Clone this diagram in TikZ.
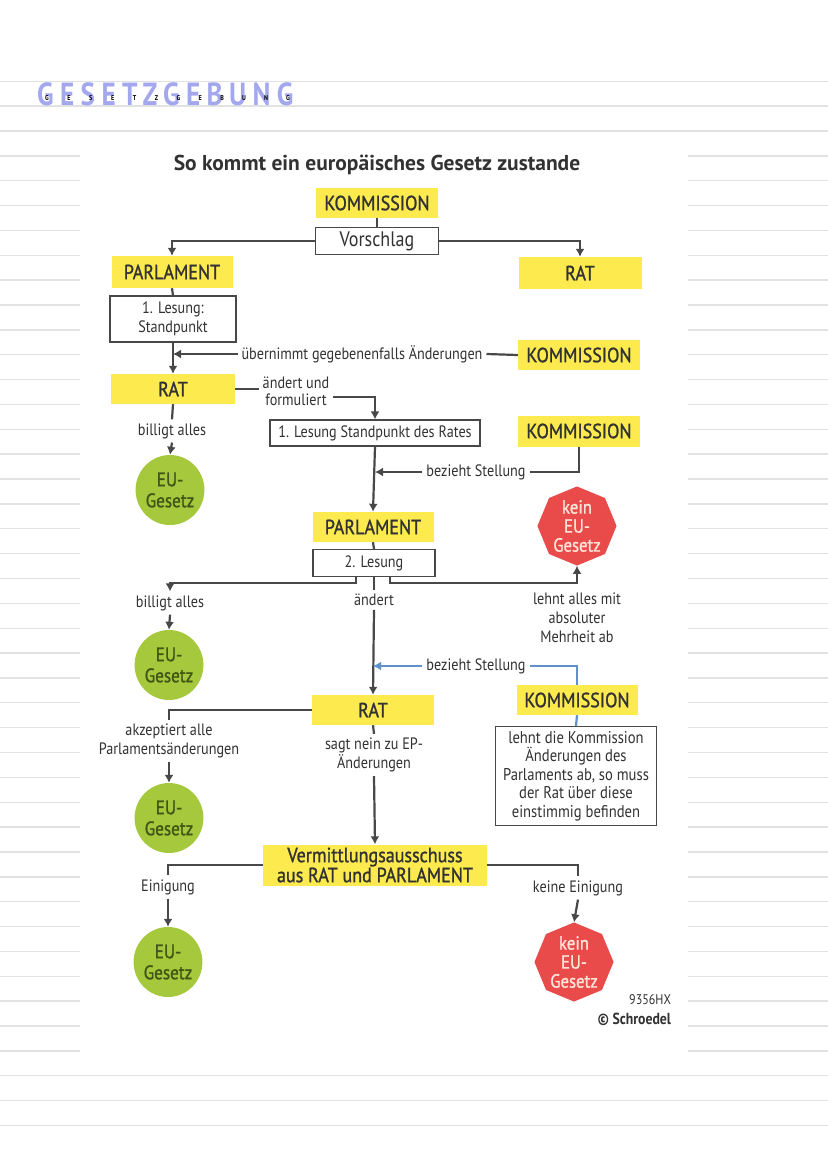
\documentclass[tikz,border=0pt]{standalone}
\usepackage{fontspec}
\setmainfont{PT Sans}[FakeStretch=0.86]
\newfontfamily\breit{PT Sans}
\newfontfamily\halbfett{PT Sans}[FakeStretch=0.88,FakeBold=1.2]
\newfontfamily\ueberfont{PT Sans}[FakeStretch=0.85,LetterSpace=20]
\usetikzlibrary{arrows,arrows.meta,shapes.geometric,calc}
\definecolor{kastengelb}{RGB}{252,234,79}
\definecolor{gesetzgruen}{RGB}{165,200,60}
\definecolor{gruentext}{RGB}{62,86,22}
\definecolor{stopprot}{RGB}{233,75,75}
\definecolor{stopptext}{RGB}{255,228,215}
\definecolor{pfeilgrau}{RGB}{72,72,72}
\definecolor{stellungblau}{RGB}{95,145,205}
\definecolor{heftlinie}{RGB}{226,226,226}
\definecolor{titelblau}{RGB}{163,168,238}
\definecolor{schrift}{RGB}{50,50,50}
\begin{document}
\begin{tikzpicture}[x=1pt,y=-1pt]
             \tikzstyle{heft}=[draw=heftlinie,line width=1.4]
             \tikzstyle{gelb}=[fill=kastengelb,text=schrift,inner sep=0pt,minimum height=30,font=\halbfett\fontsize{20.5}{22}\selectfont]
             \tikzstyle{weiss}=[draw=pfeilgrau,fill=white,line width=1.2,inner sep=0pt,minimum height=27,text=schrift,align=center,font=\fontsize{16.5}{19}\selectfont]
             \tikzstyle{notiz}=[text=schrift,inner sep=1pt,outer sep=3pt,align=center,font=\fontsize{16.5}{19}\selectfont]
             \tikzstyle{gesetz}=[ellipse,fill=gesetzgruen,text=gruentext,minimum width=67,minimum height=70,inner sep=0pt,align=center,font=\halbfett\fontsize{19.5}{21}\selectfont]
             \tikzstyle{stopp}=[regular polygon,regular polygon sides=8,shape border rotate=22.5,fill=stopprot,text=stopptext,minimum size=76,inner sep=0pt,align=center,font=\halbfett\fontsize{19}{19}\selectfont]
             \tikzstyle{linie}=[draw=pfeilgrau,line width=2.2]
             \tikzstyle{pfeil}=[linie,-{Latex[length=8pt,width=9pt]}]
             \tikzstyle{blau}=[draw=stellungblau,line width=2.2]
             \useasboundingbox (0,0) rectangle (828,1171);
             \fill[white] (0,0) rectangle (828,1171);
             % Heftlinien
             \foreach \k in {-2,-1,0,38,39,40}
               \draw[heft] (0,{131+24.86*\k}) -- (828,{131+24.86*\k});
             \foreach \k in {1,...,37}{
               \draw[heft] (0,{131+24.86*\k}) -- (80,{131+24.86*\k});
               \draw[heft] (688,{131+24.86*\k}) -- (828,{131+24.86*\k});
             }
             \node[text=titelblau,anchor=west,inner sep=0pt,font=\ueberfont\bfseries\fontsize{32}{32}\selectfont] (ueberschrift) at (37,94) {GESETZGEBUNG};
             \foreach \b [count=\i from 0] in {G,E,S,E,T,Z,G,E,B,U,N,G}
               \node[inner sep=0pt,font=\fontsize{7}{7}\selectfont\bfseries] (klein\i) at ({47+21.9*\i},98) {\b};
             % Schaubild
             \node[text=schrift,font=\breit\fontsize{21.5}{23}\selectfont\bfseries] (titel) at (377,165) {So kommt ein europäisches Gesetz zustande};
             \node[gelb,minimum width=122] (kom1) at (377,203) {KOMMISSION};
             \node[weiss,minimum width=123,font=\fontsize{21}{22}\selectfont] (vorschlag) at (377,241) {Vorschlag};
             \node[gelb,minimum width=121,minimum height=32] (parl1) at (172,272) {PARLAMENT};
             \node[gelb,minimum width=123,minimum height=32] (rat1) at (580,273) {RAT};
             \node[weiss,minimum width=126,minimum height=46] (lesung1) at (173,319) {1. Lesung:\\Standpunkt};
             \node[gelb,minimum width=122] (kom2) at (579,355) {KOMMISSION};
             \node[notiz] (uebernimmt) at (362,354) {übernimmt gegebenenfalls Änderungen};
             \node[gelb,minimum width=124] (rat2) at (173,389) {RAT};
             \node[notiz,font=\fontsize{16.5}{17}\selectfont] (formuliert) at (296,391) {ändert und\\formuliert};
             \node[weiss,minimum width=210,minimum height=26] (lesungrat) at (375,433) {1. Lesung Standpunkt des Rates};
             \node[gelb,minimum width=122,minimum height=31] (kom3) at (579,431) {KOMMISSION};
             \node[notiz] (billigt1) at (172,431) {billigt alles};
             \node[gesetz] (eu1) at (170,490) {EU-\\Gesetz};
             \node[notiz] (stellung1) at (476,472) {bezieht Stellung};
             \node[gelb,minimum width=121] (parl2) at (373,527) {PARLAMENT};
             \node[stopp] (kein1) at (577,526) {kein\\EU-\\Gesetz};
             \node[weiss,minimum width=122] (lesung2) at (374,563) {2. Lesung};
             \node[notiz] (billigt2) at (170,603) {billigt alles};
             \node[gesetz] (eu2) at (169,665) {EU-\\Gesetz};
             \node[notiz] (aendert) at (374,600) {ändert};
             \node[notiz] (mehrheit) at (577,618) {lehnt alles mit\\absoluter\\Mehrheit ab};
             \node[notiz] (stellung2) at (476,666) {bezieht Stellung};
             \node[gelb,minimum width=121] (kom4) at (577,700) {KOMMISSION};
             \node[weiss,minimum width=161,minimum height=99,font=\fontsize{17}{18.5}\selectfont] (einstimmig) at (576,776) {lehnt die Kommission\\Änderungen des\\Parlaments ab, so muss\\der Rat über diese\\einstimmig befinden};
             \node[gelb,minimum width=122] (rat3) at (373,710) {RAT};
             \node[notiz] (akzeptiert) at (169,741) {akzeptiert alle\\Parlamentsänderungen};
             \node[gesetz] (eu3) at (169,818) {EU-\\Gesetz};
             \node[notiz] (nein) at (374,755) {sagt nein zu EP-\\Änderungen};
             \node[gelb,minimum width=224,minimum height=41,align=center,font=\halbfett\fontsize{20.5}{20}\selectfont] (vermittlung) at (375,865) {Vermittlungsausschuss\\aus RAT und PARLAMENT};
             \node[notiz] (einigung) at (168,887) {Einigung};
             \node[gesetz] (eu4) at (168,962) {EU-\\Gesetz};
             \node[notiz] (keine) at (578,888) {keine Einigung};
             \node[stopp] (kein2) at (574,962) {kein\\EU-\\Gesetz};
             \node[notiz,anchor=east,font=\fontsize{14}{15}\selectfont] (kennung) at (675,1000) {9356HX};
             \node[notiz,anchor=east,font=\fontsize{16}{17}\selectfont\bfseries] (verlag) at (675,1019) {\textcopyright{} Schroedel};
             % Verbindungen
             \draw[linie] (kom1.south) -- (vorschlag.north);
             \draw[pfeil] (vorschlag.west) -| (parl1.north);
             \draw[pfeil] (vorschlag.east) -| (rat1.north);
             \draw[linie] (parl1.south) -- (lesung1.north);
             \draw[pfeil] (lesung1.south) -- (rat2.north);
             \draw[linie] (kom2.west) -- (uebernimmt.east);
             \draw[pfeil] (uebernimmt.west) -- (uebernimmt.west -| lesung1.south);
             \draw[linie] (rat2.east) -- (rat2.east -| formuliert.west);
             \draw[pfeil] ([yshift=-6pt]formuliert.east) -| (lesungrat.north);
             \draw[linie] (rat2.south) -- (billigt1.north);
             \draw[pfeil] (billigt1.south) -- (eu1.north);
             \draw[pfeil] (lesungrat.south) -- (parl2.north);
             \draw[linie] (kom3.south) |- (stellung1.east);
             \draw[pfeil] (stellung1.west) -- (stellung1.west -| lesungrat.south);
             \draw[linie] (parl2.south) -- (lesung2.north);
             \draw[pfeil] ([xshift=-18pt]lesung2.south) -- ++(0,6) -| (billigt2.north);
             \draw[pfeil] ([xshift=16pt]lesung2.south) -- ++(0,6) -| (kein1.south);
             \draw[linie] (lesung2.south) -- (aendert.north);
             \draw[pfeil] (billigt2.south) -- (eu2.north);
             \draw[pfeil] (aendert.south) -- (rat3.north);
             \draw[blau,-{Latex[length=8pt,width=9pt]}] (stellung2.west) -- (stellung2.west -| rat3.north);
             \draw[blau] (kom4.north) |- (stellung2.east);
             \draw[blau] (kom4.south) -- (einstimmig.north);
             \draw[linie] (rat3.west) -| (akzeptiert.north);
             \draw[pfeil] (akzeptiert.south) -- (eu3.north);
             \draw[linie] (rat3.south) -- (nein.north);
             \draw[pfeil] (nein.south) -- (vermittlung.north);
             \draw[linie] (vermittlung.west) -| (einigung.north);
             \draw[pfeil] (einigung.south) -- (eu4.north);
             \draw[linie] (vermittlung.east) -| (keine.north);
             \draw[pfeil] (keine.south) -- (kein2.north);
\end{tikzpicture}
\end{document}
